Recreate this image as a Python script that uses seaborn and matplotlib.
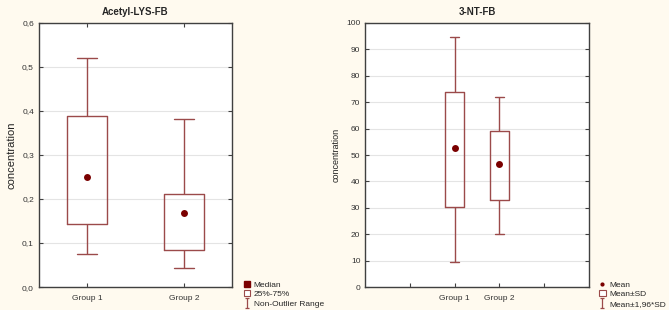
import numpy as np
import pandas as pd
import seaborn as sns
import matplotlib.pyplot as plt
from matplotlib.lines import Line2D
from matplotlib.patches import Patch
from matplotlib.path import Path

# Acetyl-LYS-FB: min, Q1, median, Q3, max (non-outlier range)
groups = ["Group 1", "Group 2"]
acetyl_g1 = [0.075, 0.143, 0.251, 0.388, 0.520]
acetyl_g2 = [0.044, 0.085, 0.168, 0.211, 0.382]
acetyl_median = [0.251, 0.168]

# 3-NT-FB: mean-1.96SD, mean-SD, mean, mean+SD, mean+1.96SD
nt_g1 = [9.4, 30.3, 52.6, 74.0, 94.8]
nt_g2 = [20.1, 32.8, 46.5, 59.1, 71.8]
nt_mean = [52.6, 46.5]

acetyl_yticks = [0.0, 0.1, 0.2, 0.3, 0.4, 0.5, 0.6]
nt_yticks = [0, 10, 20, 30, 40, 50, 60, 70, 80, 90, 100]

BOX_COLOR = "#9b4a4a"
DOT_COLOR = "#7a0000"
BG = "#fffaef"
SPINE = "#404040"

sns.set_style("white")
plt.rcParams['font.family'] = ['Liberation Sans', 'DejaVu Sans']

fig = plt.figure(figsize=(6.69, 3.10), dpi=100)
fig.patch.set_facecolor(BG)
ax1 = fig.add_axes([0.058, 0.074, 0.289, 0.852])
ax2 = fig.add_axes([0.546, 0.074, 0.334, 0.852])


def draw_panel(ax, g1, g2, dots, order, title, yticks, fmt, ylab_size):
    df = pd.DataFrame({"group": ["Group 1"] * 5 + ["Group 2"] * 5,
                       "value": g1 + g2})
    sns.boxplot(data=df, x="group", y="value", order=order, ax=ax,
                whis=(0, 100), width=0.41, fill=False, color=BOX_COLOR,
                linewidth=1.0, showfliers=False,
                medianprops={"visible": False})
    sns.stripplot(x=groups, y=dots, order=order, ax=ax, jitter=False,
                  color=DOT_COLOR, size=5, marker="o", linewidth=0,
                  zorder=5)
    ax.set_facecolor("white")
    ax.set_yticks(yticks)
    ax.set_yticklabels([fmt(v) for v in yticks], fontsize=6, color="#333333")
    ax.set_ylim(yticks[0], yticks[-1])
    ax.yaxis.grid(True, color="#e4e4e4", linewidth=0.8)
    ax.set_axisbelow(True)
    ax.set_xlabel("")
    ax.set_ylabel("concentration", fontsize=ylab_size, color="#222222")
    ax.set_title(title, fontsize=7, fontweight="bold", pad=6)
    ax.tick_params(axis="both", direction="in", length=3, width=0.8,
                   colors=SPINE, labelcolor="#333333", top=True, right=True,
                   left=True, bottom=True)
    ax.tick_params(axis="x", labelsize=6, pad=6)
    for s in ax.spines.values():
        s.set_color(SPINE)
        s.set_linewidth(1.0)
        s.set_visible(True)


draw_panel(ax1, acetyl_g1, acetyl_g2, acetyl_median, groups, "Acetyl-LYS-FB",
           acetyl_yticks, lambda v: f"{v:.1f}".replace(".", ","), 8)
ax1.set_xlim(-0.5, 1.5)

draw_panel(ax2, nt_g1, nt_g2, nt_mean, ["pad1", "Group 1", "Group 2", "pad2"],
           "3-NT-FB", nt_yticks, lambda v: f"{v:d}", 6.5)
ax2.set_xticks([0, 1, 2, 3])
ax2.set_xticklabels(["", "Group 1", "Group 2", ""])
ax2.set_xlim(-1, 4)
ax2.tick_params(axis="x", top=False)

# whisker-shaped legend marker
i_path = Path([(-0.5, 1), (0.5, 1), (0, 1), (0, -1), (-0.5, -1), (0.5, -1)],
              [Path.MOVETO, Path.LINETO, Path.MOVETO, Path.LINETO,
               Path.MOVETO, Path.LINETO])
whisk = Line2D([], [], color=BOX_COLOR, marker=i_path, linestyle="",
               markersize=7, markeredgewidth=0.9, markerfacecolor="none")
h1 = [Line2D([], [], color=DOT_COLOR, marker="s", linestyle="", markersize=4),
      Patch(facecolor="white", edgecolor=BOX_COLOR, linewidth=0.8),
      whisk]
ax1.legend(h1, ["Median", "25%-75%", "Non-Outlier Range"], loc="lower left",
           bbox_to_anchor=(1.03, -0.1), frameon=False, fontsize=6,
           handlelength=0.8, handletextpad=0.4, labelspacing=0.2,
           borderpad=0.2)
h2 = [Line2D([], [], color=DOT_COLOR, marker="o", linestyle="", markersize=2),
      Patch(facecolor="white", edgecolor=BOX_COLOR, linewidth=0.8),
      whisk]
ax2.legend(h2, ["Mean", "Mean±SD", "Mean±1,96*SD"], loc="lower left",
           bbox_to_anchor=(1.02, -0.1), frameon=False, fontsize=6,
           handlelength=0.8, handletextpad=0.4, labelspacing=0.2,
           borderpad=0.2)

fig.savefig("out.png", dpi=100, facecolor=BG)
